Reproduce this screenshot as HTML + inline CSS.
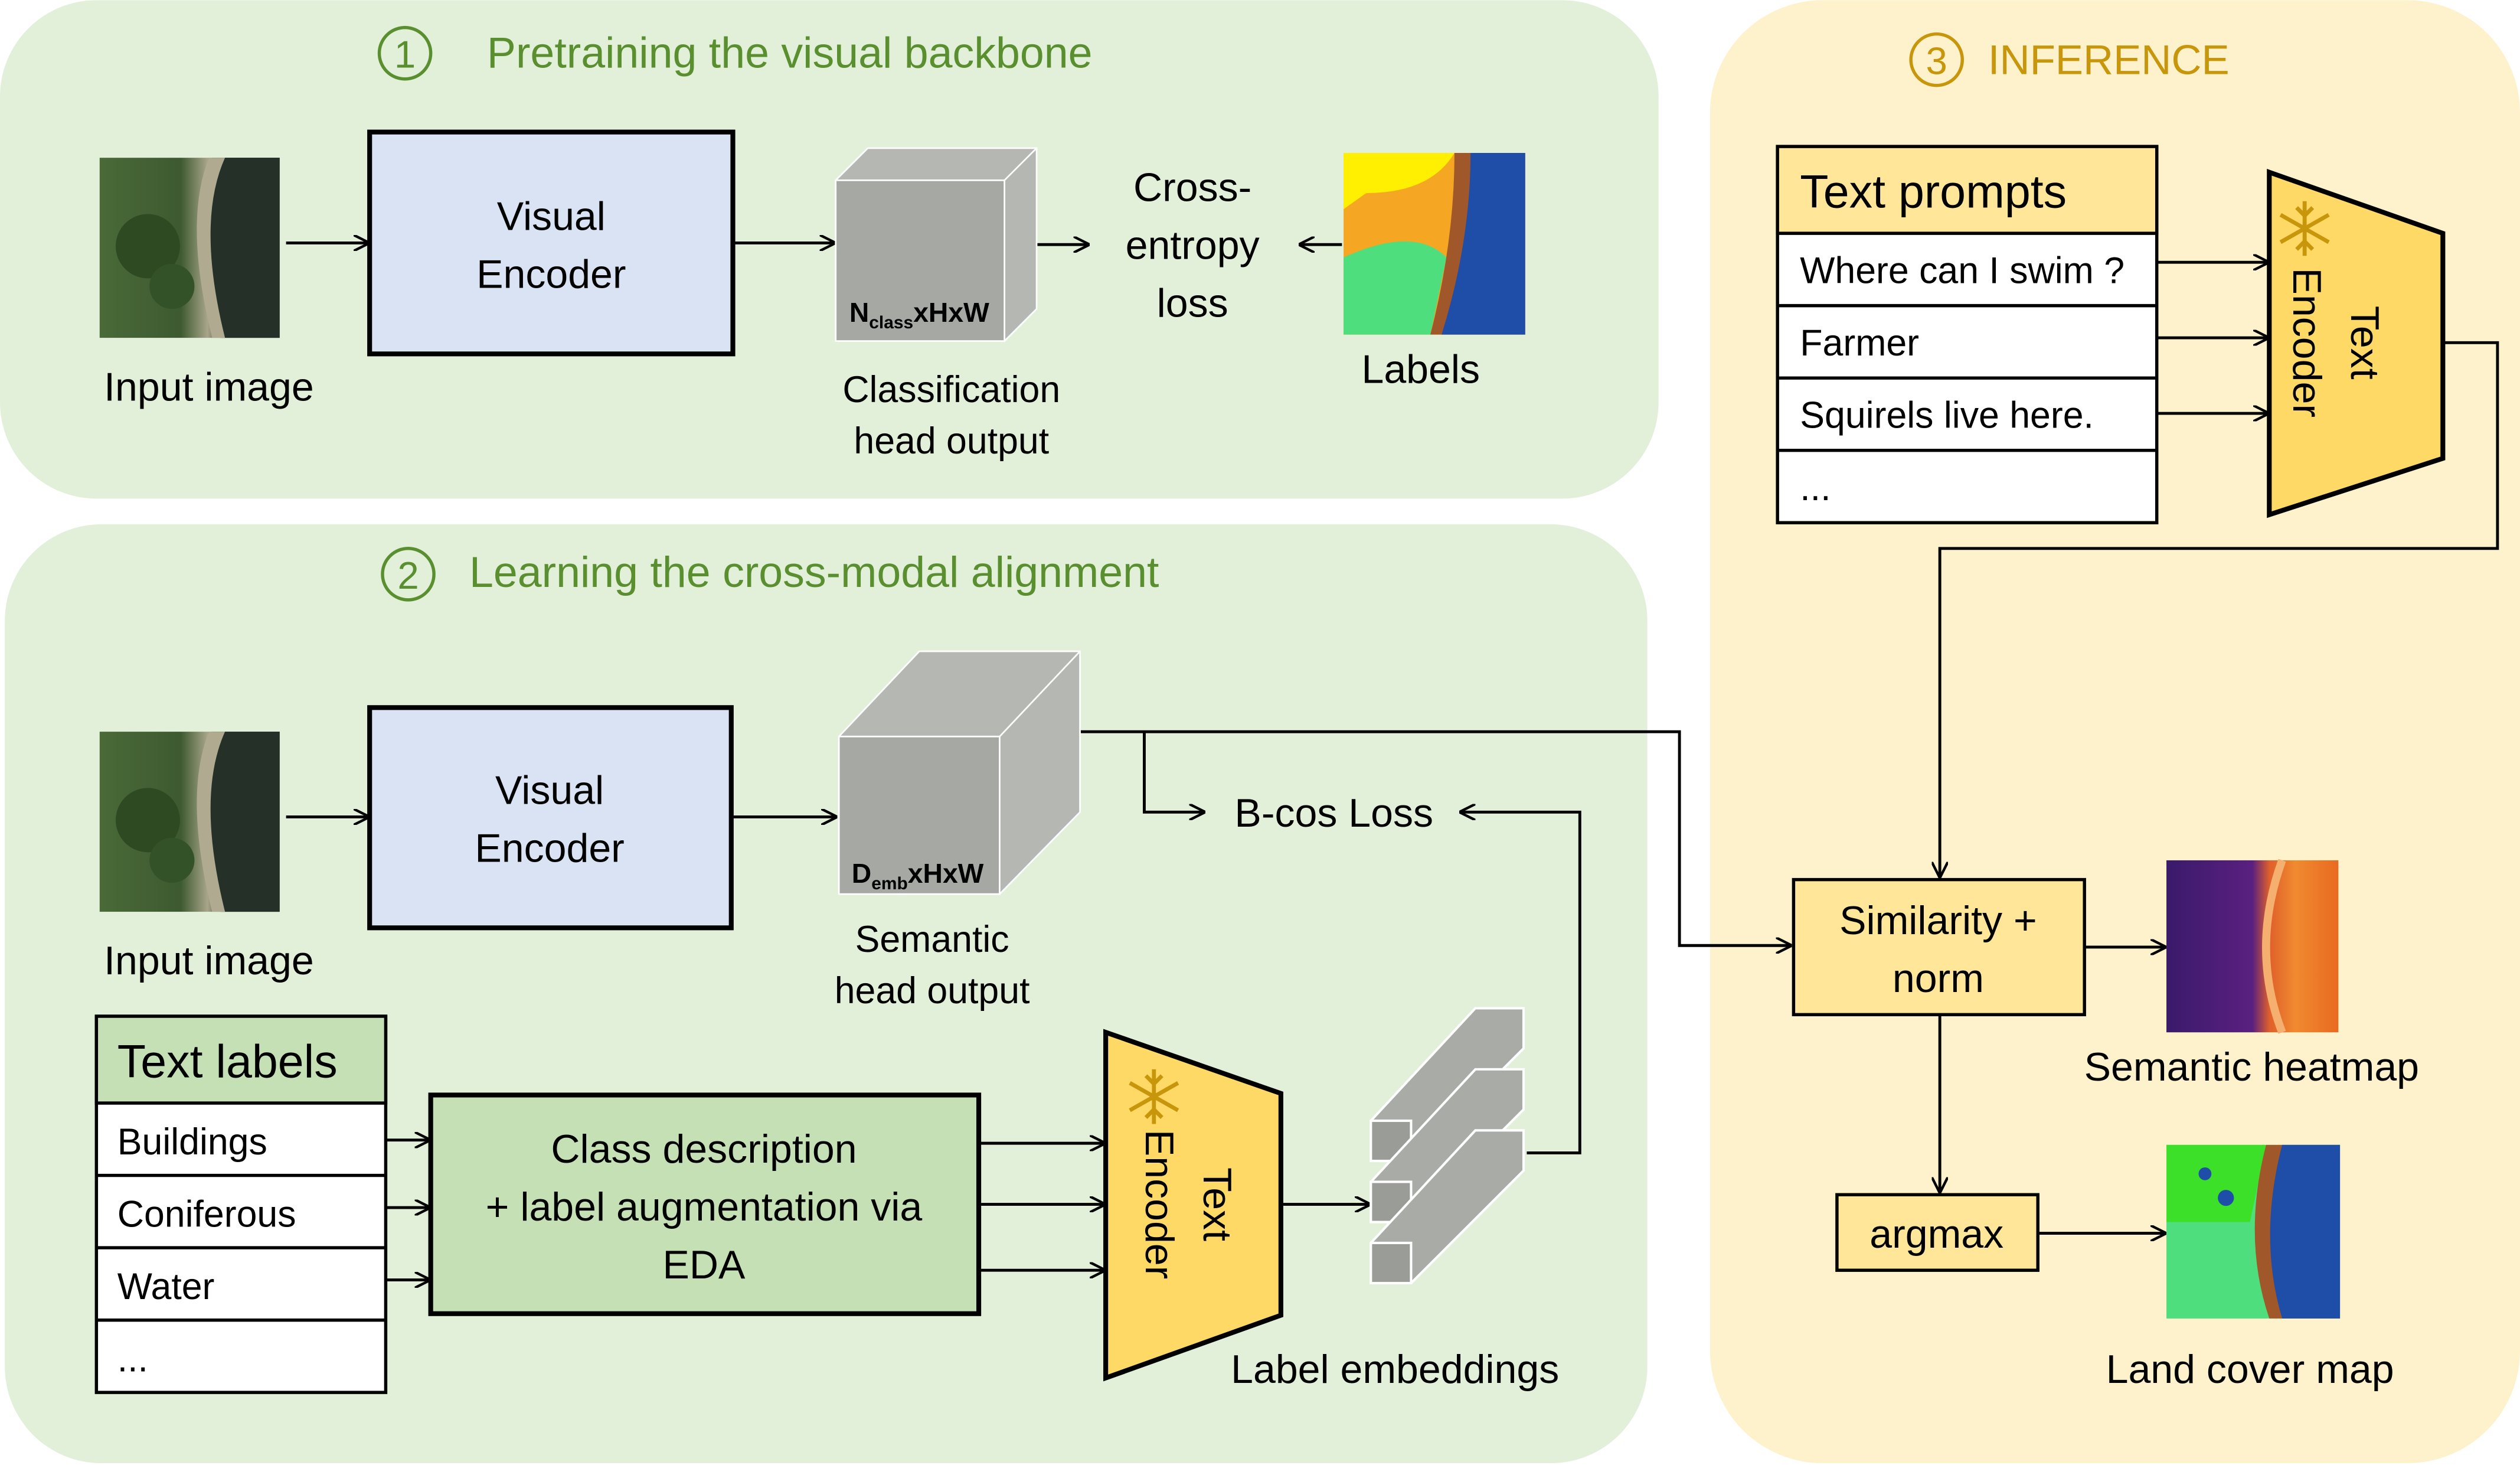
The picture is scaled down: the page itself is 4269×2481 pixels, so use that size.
<!DOCTYPE html>
<html><head><meta charset="utf-8"><style>html,body{margin:0;padding:0;background:#fff}svg{display:block}</style></head><body>
<svg width="4269" height="2481" viewBox="0 0 1568 911" xmlns="http://www.w3.org/2000/svg" font-family="Liberation Sans, DejaVu Sans, sans-serif">
<defs>
<marker id="a" markerWidth="10" markerHeight="10" refX="9" refY="5" orient="auto" markerUnits="userSpaceOnUse"><path d="M0,0 L10,5 L0,10" fill="none" stroke="#000" stroke-width="1.6"/></marker>
<linearGradient id="img" x1="0" y1="0" x2="1" y2="0"><stop offset="0" stop-color="#4a6a38"/><stop offset="0.45" stop-color="#3d5a30"/><stop offset="0.6" stop-color="#a8a58a"/><stop offset="0.7" stop-color="#2c3a30"/><stop offset="1" stop-color="#1f2b25"/></linearGradient>
<linearGradient id="heat" x1="0" y1="0" x2="1" y2="0"><stop offset="0" stop-color="#3a1a6a"/><stop offset="0.5" stop-color="#5a2080"/><stop offset="0.6" stop-color="#e0602a"/><stop offset="0.75" stop-color="#f08a30"/><stop offset="1" stop-color="#e86a20"/></linearGradient>
<g id="photo"><rect width="112" height="112" fill="url(#img)"/><path d="M70,0 Q55,40 75,112 L112,112 L112,0Z" fill="#253028"/><path d="M68,0 Q52,40 70,112 L78,112 Q60,40 78,0Z" fill="#b0ab90"/><circle cx="30" cy="55" r="20" fill="#2e4a22"/><circle cx="45" cy="80" r="14" fill="#345228"/></g>
<g id="flake" stroke="#c8960a" stroke-width="2.5" fill="none"><path d="M0,-17 V17 M-15,-8.5 L15,8.5 M-15,8.5 L15,-8.5"/><path d="M-5,-13 L0,-8 L5,-13 M-5,13 L0,8 L5,13"/></g>
</defs>
<rect x="0" y="0" width="1032" height="310" rx="60" fill="#e2efd9"/>
<rect x="3" y="326" width="1022" height="584" rx="60" fill="#e2efd9"/>
<rect x="1064" y="0" width="504" height="910" rx="70" fill="#fef2cc"/>
<g font-size="27" fill="#5a8f2f"><circle cx="252" cy="33" r="16" fill="none" stroke="#5a8f2f" stroke-width="2"/><text x="252" y="42" text-anchor="middle" font-size="24">1</text><text x="303" y="42">Pretraining the visual backbone</text>
<circle cx="254" cy="357" r="16" fill="none" stroke="#5a8f2f" stroke-width="2"/><text x="254" y="366" text-anchor="middle" font-size="24">2</text><text x="292" y="365">Learning the cross-modal alignment</text></g>
<g font-size="26" fill="#c8960a"><circle cx="1205" cy="37" r="16" fill="none" stroke="#c8960a" stroke-width="2"/><text x="1205" y="46" text-anchor="middle" font-size="24">3</text><text x="1237" y="46">INFERENCE</text></g>
<g stroke="#000" stroke-width="1.8" fill="none" marker-end="url(#a)">
<path d="M178,151H229"/><path d="M456,151H519"/><path d="M645,152H677"/><path d="M835,152H809"/>
<path d="M178,508H229"/><path d="M455,508H520"/>
<path d="M672,455H1045V588H1114" marker-end="url(#a)"/><path d="M712,455V505H749"/><path d="M950,717H983V505H909"/>
<path d="M240,709H267"/><path d="M240,751H267"/><path d="M240,796H267"/>
<path d="M609,711H687"/><path d="M609,749H687"/><path d="M609,790H687"/><path d="M797,749H852"/>
<path d="M1342,163H1411"/><path d="M1342,210H1411"/><path d="M1342,257H1411"/>
<path d="M1520,213H1554V341H1207V545"/><path d="M1297,589H1347"/><path d="M1207,631V741"/><path d="M1268,767H1347"/>
</g>
<g font-size="25" fill="#000" text-anchor="middle">
<use href="#photo" x="62" y="98"/><text x="130" y="249">Input image</text>
<rect x="230" y="82" width="226" height="138" fill="#dae3f3" stroke="#000" stroke-width="3"/><text x="343" y="143">Visual</text><text x="343" y="179">Encoder</text>
<path d="M520,112 L540,92 L645,92 L645,192 L625,212 Z" fill="#b5b7b2" stroke="#fff" stroke-width="1"/><rect x="520" y="112" width="105" height="100" fill="#a6a8a4" stroke="#fff"/><path d="M625,112L645,92" stroke="#fff"/>
<text x="572" y="200" font-size="17" font-weight="bold">N<tspan font-size="11" dy="4">class</tspan><tspan dy="-4">xHxW</tspan></text>
<text x="592" y="250" font-size="23">Classification</text><text x="592" y="282" font-size="23">head output</text>
<text x="742" y="125">Cross-</text><text x="742" y="161">entropy</text><text x="742" y="197">loss</text>
<rect x="836" y="95" width="113" height="113" fill="#f5a623"/><path d="M836,95 H905 Q890,120 850,120 L836,130Z" fill="#ffef00"/><path d="M836,160 Q880,140 900,160 L890,208 H836Z" fill="#4ede7e"/><path d="M905,95 H949 V208 H890 Q905,150 905,95Z" fill="#a0582a"/><path d="M915,95 H949 V208 H897 Q915,150 915,95Z" fill="#1f4ea8"/>
<text x="884" y="238">Labels</text>
<use href="#photo" x="62" y="455"/><text x="130" y="606">Input image</text>
<rect x="230" y="440" width="225" height="137" fill="#dae3f3" stroke="#000" stroke-width="3"/><text x="342" y="500">Visual</text><text x="342" y="536">Encoder</text>
<path d="M522,458 L572,405 L672,405 L672,505 L622,556 L522,556Z" fill="#b5b7b2" stroke="#fff"/><rect x="522" y="458" width="100" height="98" fill="#a6a8a4" stroke="#fff"/><path d="M622,458L672,405" stroke="#fff"/>
<text x="571" y="549" font-size="17" font-weight="bold">D<tspan font-size="11" dy="4">emb</tspan><tspan dy="-4">xHxW</tspan></text>
<text x="580" y="592" font-size="23">Semantic</text><text x="580" y="624" font-size="23">head output</text>
<text x="830" y="514">B-cos Loss</text>
</g>
<g stroke="#000" stroke-width="2" fill="#fff"><rect x="60" y="632" width="180" height="234"/><rect x="60" y="632" width="180" height="54" fill="#c5e0b4"/><path d="M60,731H240M60,776H240M60,821H240" fill="none"/></g>
<g font-size="23"><text x="73" y="670" font-size="29">Text labels</text><text x="73" y="718">Buildings</text><text x="73" y="763">Coniferous</text><text x="73" y="808">Water</text><text x="73" y="853">...</text></g>
<rect x="268" y="681" width="341" height="136" fill="#c5e0b4" stroke="#000" stroke-width="3"/>
<g font-size="25" text-anchor="middle"><text x="438" y="723">Class description</text><text x="438" y="759">+ label augmentation via</text><text x="438" y="795">EDA</text></g>
<path d="M688,642 L797,680 L797,818 L688,857Z" fill="#ffd966" stroke="#000" stroke-width="3"/>
<use href="#flake" x="718" y="682"/>
<text transform="translate(743,749) rotate(90)" font-size="25" text-anchor="middle"><tspan x="0" y="-6">Text</tspan><tspan x="0" y="30">Encoder</tspan></text>
<g fill="#a9aba7" stroke="#fff" stroke-width="1.5">
<g transform="translate(0,0)"><path d="M853,697 L918,627 L948,627 L948,652 L878,722 L853,722Z"/><rect x="853" y="697" width="25" height="25" fill="#9a9c98"/></g>
<g transform="translate(0,38)"><path d="M853,697 L918,627 L948,627 L948,652 L878,722 L853,722Z"/><rect x="853" y="697" width="25" height="25" fill="#9a9c98"/></g>
<g transform="translate(0,76)"><path d="M853,697 L918,627 L948,627 L948,652 L878,722 L853,722Z"/><rect x="853" y="697" width="25" height="25" fill="#9a9c98"/></g>
</g>
<text x="868" y="860" font-size="25" text-anchor="middle">Label embeddings</text>
<g stroke="#000" stroke-width="2" fill="#fff"><rect x="1106" y="91" width="236" height="234"/><rect x="1106" y="91" width="236" height="54" fill="#ffe699"/><path d="M1106,190H1342M1106,235H1342M1106,280H1342" fill="none"/></g>
<g font-size="23"><text x="1120" y="129" font-size="29">Text prompts</text><text x="1120" y="176">Where can I swim ?</text><text x="1120" y="221">Farmer</text><text x="1120" y="266">Squirels live here.</text><text x="1120" y="311">...</text></g>
<path d="M1412,107 L1520,145 L1520,285 L1412,320Z" fill="#ffd966" stroke="#000" stroke-width="3"/>
<use href="#flake" x="1434" y="142"/>
<text transform="translate(1457,213) rotate(90)" font-size="25" text-anchor="middle"><tspan x="0" y="-6">Text</tspan><tspan x="0" y="30">Encoder</tspan></text>
<rect x="1116" y="547" width="181" height="84" fill="#ffe699" stroke="#000" stroke-width="2"/>
<g font-size="25" text-anchor="middle"><text x="1206" y="581">Similarity  +</text><text x="1206" y="617">norm</text></g>
<rect x="1348" y="535" width="107" height="107" fill="url(#heat)"/><path d="M1420,535 Q1400,590 1420,642" stroke="#f5b070" stroke-width="5" fill="none"/>
<text x="1401" y="672" font-size="25" text-anchor="middle">Semantic heatmap</text>
<rect x="1143" y="743" width="125" height="47" fill="#ffe699" stroke="#000" stroke-width="2"/><text x="1205" y="776" font-size="25" text-anchor="middle">argmax</text>
<rect x="1348" y="712" width="108" height="108" fill="#4ede7e"/><path d="M1348,712 H1410 L1400,760 H1348Z" fill="#3ce028"/><path d="M1410,712 Q1395,770 1412,820 H1456 V712Z" fill="#a0582a"/><path d="M1420,712 Q1405,770 1420,820 H1456 V712Z" fill="#1f4ea8"/><circle cx="1385" cy="745" r="5" fill="#1f4ea8"/><circle cx="1372" cy="730" r="4" fill="#1f4ea8"/>
<text x="1400" y="860" font-size="25" text-anchor="middle">Land cover map</text>
</svg>
</body></html>
